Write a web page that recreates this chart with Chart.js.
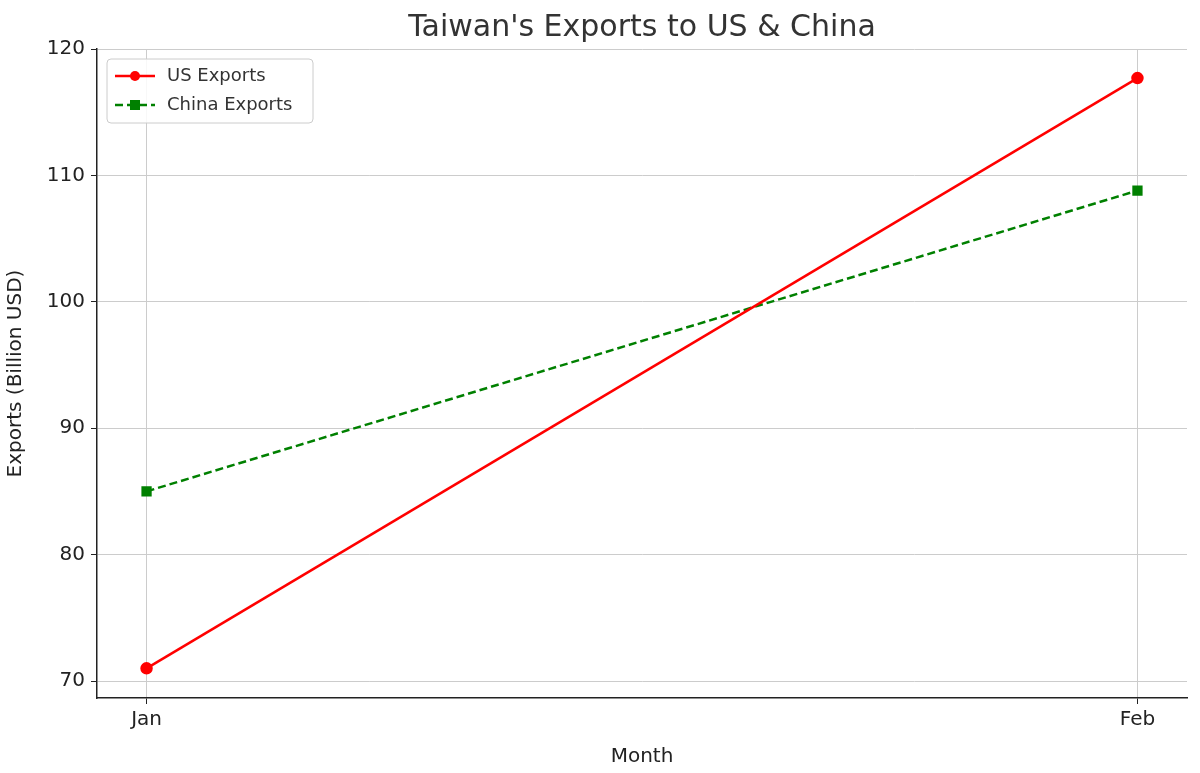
<!DOCTYPE html>
<html>
<head>
<meta charset="utf-8">
<script src="https://cdn.jsdelivr.net/npm/chart.js@4/dist/chart.umd.min.js"></script>
<style>
  html, body { margin: 0; padding: 0; background: #fff; }
  #wrap { width: 1200px; height: 773px; }
</style>
</head>
<body>
<div id="wrap"><canvas id="myChart" width="1200" height="773"></canvas></div>
<script>
// datos del grafico
const meses = ["Jan", "Feb"];
const exportsUS = [71.0, 117.7];
const exportsChina = [85.0, 108.8];
const ticksY = [70, 80, 90, 100, 110, 120];

const fuente = "'DejaVu Sans', sans-serif";

// leyenda dentro del area del grafico, arriba a la izquierda
const leyendaInterna = {
  id: "leyendaInterna",
  afterDraw(chart) {
    const ctx = chart.ctx;
    const x0 = chart.chartArea.left + 10, y0 = chart.chartArea.top + 10;
    ctx.save();
    ctx.fillStyle = "rgba(255,255,255,0.85)";
    ctx.strokeStyle = "#cccccc";
    ctx.lineWidth = 1;
    ctx.beginPath();
    ctx.roundRect(x0, y0, 206, 64, 4);
    ctx.fill(); ctx.stroke();
    ctx.font = "18px " + fuente;
    ctx.textBaseline = "middle";
    chart.data.datasets.forEach((ds, i) => {
      const y = y0 + 17 + i * 29;
      ctx.strokeStyle = ds.borderColor;
      ctx.lineWidth = 2.5;
      ctx.setLineDash(ds.borderDash || []);
      ctx.beginPath(); ctx.moveTo(x0 + 8, y); ctx.lineTo(x0 + 48, y); ctx.stroke();
      ctx.setLineDash([]);
      ctx.fillStyle = ds.borderColor;
      if (ds.pointStyle === "rect") ctx.fillRect(x0 + 23, y - 5, 10, 10);
      else { ctx.beginPath(); ctx.arc(x0 + 28, y, 5, 0, Math.PI * 2); ctx.fill(); }
      ctx.fillStyle = "#333";
      ctx.fillText(ds.label, x0 + 60, y);
    });
    ctx.restore();
  }
};

// titulo dibujado a mano
const tituloPlugin = {
  id: "tituloPlugin",
  afterDraw(chart) {
    const ctx = chart.ctx;
    ctx.save();
    ctx.font = "30px " + fuente;
    ctx.fillStyle = "#333";
    ctx.textAlign = "center";
    ctx.textBaseline = "middle";
    ctx.fillText("Taiwan's Exports to US & China", (chart.chartArea.left + chart.chartArea.right) / 2, 28);
    ctx.restore();
  }
};

const datasets = [
  {
    label: "US Exports",
    data: exportsUS.map((v, i) => ({ x: i, y: v })),
    borderColor: "#ff0000",
    backgroundColor: "#ff0000",
    borderWidth: 2.5,
    pointStyle: "circle",
    pointRadius: 5,
    tension: 0
  },
  {
    label: "China Exports",
    data: exportsChina.map((v, i) => ({ x: i, y: v })),
    borderColor: "#008000",
    backgroundColor: "#008000",
    borderWidth: 2.5,
    borderDash: [8, 4],
    pointStyle: "rect",
    pointRadius: 5.5,
    tension: 0
  }
];

const config = {
  type: "line",
  data: { datasets },
  options: {
    responsive: false,
    animation: false,
    layout: { padding: { top: 49, right: 13, left: 0, bottom: 0 } },
    plugins: { legend: { display: false }, title: { display: false }, tooltip: { enabled: false } },
    scales: {
      x: {
        type: "linear",
        min: -0.05,
        max: 1.05,
        afterBuildTicks: (s) => { s.ticks = meses.map((m, i) => ({ value: i })); },
        afterFit: (s) => { s.height = 75; },
        ticks: { callback: (v) => meses[v], color: "#222", font: { size: 20, family: fuente }, padding: 4 },
        grid: { color: "#cccccc", tickLength: 6, tickColor: "#222" },
        border: { color: "#222", width: 1.5, dash: [4, 3] },
        title: { display: true, text: "Month", color: "#222", font: { size: 20, family: fuente }, padding: { top: 4 } }
      },
      y: {
        min: 70 - 17 / 12.64,
        max: 120,
        afterBuildTicks: (s) => { s.ticks = ticksY.map((v) => ({ value: v })); },
        afterFit: (s) => { s.width = 97; },
        ticks: { color: "#222", font: { size: 20, family: fuente }, padding: 6 },
        grid: { color: "#cccccc", tickLength: 6, tickColor: "#222" },
        border: { color: "#222", width: 1.5, dash: [4, 3] },
        title: { display: true, text: "Exports (Billion USD)", color: "#222", font: { size: 20, family: fuente } }
      }
    }
  },
  plugins: [leyendaInterna, tituloPlugin]
};

// el border dash se aplica a la grilla; el eje solido se dibuja aparte
config.options.scales.x.border = { color: "#222", width: 1.5 };
config.options.scales.x.grid.borderDash = [4, 3];
config.options.scales.y.border = { color: "#222", width: 1.5 };
config.options.scales.x.border.dash = undefined;

Chart.defaults.font.family = fuente;
// grilla punteada
config.options.scales.x.border = { display: true, color: "#222", width: 1.5 };
config.options.scales.y.border = { display: true, color: "#222", width: 1.5 };
config.options.scales.x.grid.lineWidth = 1;
config.options.scales.y.grid.lineWidth = 1;
const grillaPunteada = {
  id: "grillaPunteada",
  beforeDraw(chart) {
    chart.ctx.setLineDash([]);
  }
};
config.options.scales.x.grid.color = "#cccccc";
config.options.scales.y.grid.color = "#cccccc";

const grafico = new Chart(document.getElementById("myChart"), config);
grafico.options.scales.x.grid.drawOnChartArea = true;
grafico.update();
</script>
</body>
</html>
